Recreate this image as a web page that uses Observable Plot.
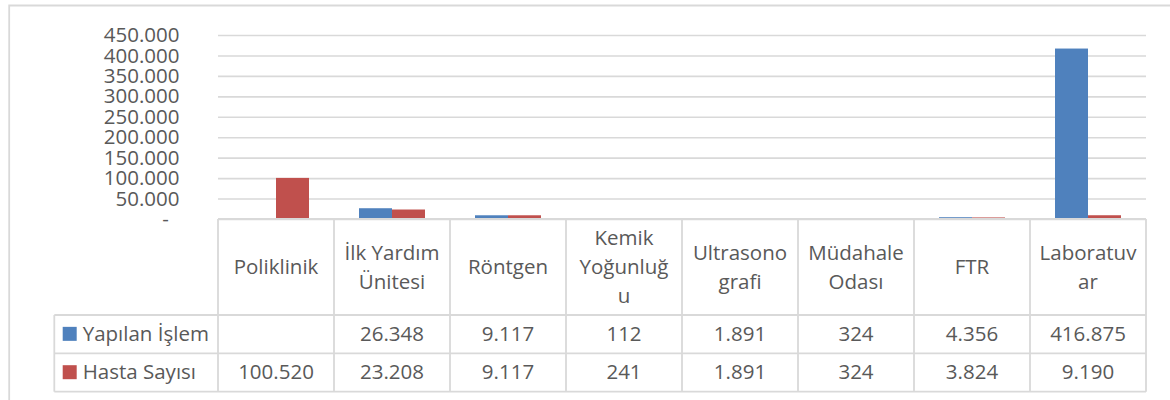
<!DOCTYPE html>
<html><head><meta charset="utf-8">
<script src="https://cdn.jsdelivr.net/npm/d3@7"></script>
<script src="https://cdn.jsdelivr.net/npm/@observablehq/plot@0.6"></script>
<style>
html,body{margin:0;padding:0;background:#fff;}
#chart{position:relative;width:1170px;height:400px;overflow:hidden;}
#chart svg{display:block;}
</style></head><body><div id="chart"></div>
<script>
// ---- data ----
const categories = ["Poliklinik","İlk Yardım Ünitesi","Röntgen","Kemik Yoğunluğu","Ultrasonografi","Müdahale Odası","FTR","Laboratuvar"];
const headerLines = ["Poliklinik","İlk Yardım\nÜnitesi","Röntgen","Kemik\nYoğunluğ\nu","Ultrasono\ngrafi","Müdahale\nOdası","FTR","Laboratuv\nar"];
const seriesNames = ["Yapılan İşlem","Hasta Sayısı"];
const yapilanIslem = [null,26348,9117,112,1891,324,4356,416875];
const hastaSayisi = [100520,23208,9117,241,1891,324,3824,9190];
const seriesValues = [yapilanIslem, hastaSayisi];
const yTicks = [0,50000,100000,150000,200000,250000,300000,350000,400000,450000];
const seriesColors = ["#4F81BD","#C0504D"];

const fmt = d3.formatLocale({decimal:",", thousands:".", grouping:[3], currency:["",""]}).format(",");
const rows = categories.flatMap((c,i)=>seriesNames.map((s,j)=>({cat:c, series:s, value:seriesValues[j][i]}))).filter(d=>d.value!=null);

const FONT = "'Open Sans', sans-serif";
const TEXT = "#595959";
const LINE = "#d9d9d9";

const chart = Plot.plot({
  width:1170, height:400,
  marginLeft:217, marginRight:24, marginTop:35, marginBottom:181,
  style:{fontFamily:FONT, fontSize:"20.5px", color:TEXT, background:"transparent", overflow:"visible"},
  fx:{domain:categories, padding:0, axis:null, label:null},
  x:{domain:seriesNames, paddingInner:0, paddingOuter:0.743, axis:null},
  y:{domain:[0,450000]},
  color:{domain:seriesNames, range:seriesColors},
  marks:[
    Plot.gridY(yTicks, {stroke:LINE, strokeOpacity:1, strokeWidth:1.6}),
    Plot.axisY(yTicks, {tickSize:0, tickPadding:39, tickFormat:d=> d===0 ? "-\u00a0\u00a0" : fmt(d), fill:TEXT, fontSize:20.5, label:null}),
    Plot.barY(rows, {fx:"cat", x:"series", y:"value", fill:"series"})
  ]
});
document.getElementById("chart").appendChild(chart);

// ---- data table under the plot, positioned with Plot's scales ----
const fx = chart.scale("fx");
const ys = chart.scale("y");
const bw = fx.bandwidth;
const y0 = ys.apply(0);
const x0 = fx.apply(categories[0]);
const x1 = fx.apply(categories[categories.length-1]) + bw;
const headerBottom = 315, row1Bottom = 353.3, row2Bottom = 391.7, legendLeft = 54.3;
const rowMids = [(headerBottom+row1Bottom)/2, (row1Bottom+row2Bottom)/2];

const svg = d3.select(chart);
const g = svg.append("g").attr("font-family", FONT).attr("font-size", 20.5).attr("fill", TEXT).attr("text-anchor","start");

// outer chart frame
g.append("path").attr("d", `M9.2,400V5.5H1175`).attr("fill","none").attr("stroke",LINE).attr("stroke-width",1.8);

// grid lines of the table
const lines = g.append("g").attr("stroke", LINE).attr("stroke-width", 1.8).attr("fill","none");
categories.forEach(c=>{
  lines.append("line").attr("x1", fx.apply(c)).attr("x2", fx.apply(c)).attr("y1", y0).attr("y2", row2Bottom);
});
lines.append("line").attr("x1", x1).attr("x2", x1).attr("y1", y0).attr("y2", row2Bottom);
lines.append("line").attr("x1", x0).attr("x2", x1).attr("y1", y0).attr("y2", y0);
[headerBottom, row1Bottom, row2Bottom].forEach(y=>{
  lines.append("line").attr("x1", legendLeft).attr("x2", x1).attr("y1", y).attr("y2", y);
});
lines.append("line").attr("x1", legendLeft).attr("x2", legendLeft).attr("y1", headerBottom).attr("y2", row2Bottom);

// header labels
const headerMid = (y0 + headerBottom)/2;
const lh = 29;
categories.forEach((c,i)=>{
  const parts = headerLines[i].split("\n");
  const t = g.append("text").attr("text-anchor","middle");
  parts.forEach((p,k)=>{
    t.append("tspan").attr("x", fx.apply(c)+bw/2).attr("y", headerMid + 7.3 + (k-(parts.length-1)/2)*lh).text(p);
  });
});

// value rows + legend
seriesNames.forEach((s,j)=>{
  const mid = rowMids[j];
  g.append("rect").attr("x", 62.7).attr("y", mid-7.3).attr("width", 14).attr("height", 14).attr("fill", chart.scale("color").apply(s));
  g.append("text").attr("text-anchor","start").attr("x", 82.7).attr("y", mid+6.8).text(s);
  categories.forEach((c,i)=>{
    const v = seriesValues[j][i];
    if (v == null) return;
    g.append("text").attr("text-anchor","middle").attr("x", fx.apply(c)+bw/2).attr("y", mid+6.8).text(fmt(v));
  });
});
</script></body></html>
